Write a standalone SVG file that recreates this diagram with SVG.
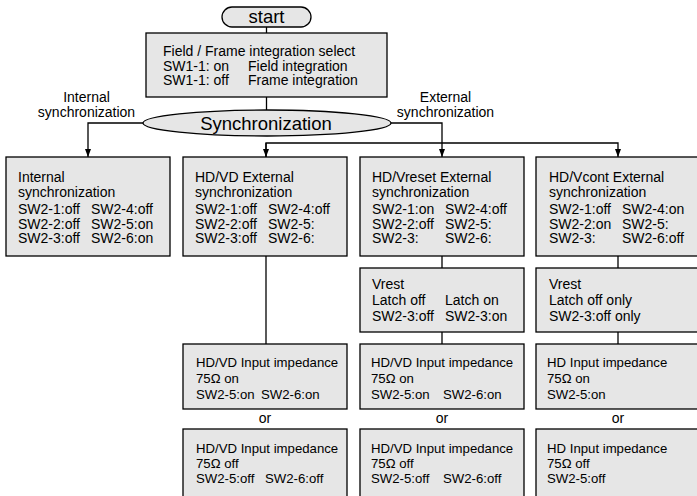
<svg xmlns="http://www.w3.org/2000/svg" width="697" height="496" viewBox="0 0 697 496">
<defs>
<style>
.box{fill:#e6e6e6;stroke:#000;stroke-width:1.3}
.t{font-family:"Liberation Sans",Arial,sans-serif;font-size:14px;fill:#000}
.s{font-size:13.2px}
.big{font-family:"Liberation Sans",Arial,sans-serif;font-size:18.5px;fill:#000}
.c{text-anchor:middle}
.ln{fill:none;stroke:#000;stroke-width:1.3}
</style>
<marker id="ah" viewBox="0 0 8 6" refX="8" refY="3" markerWidth="8" markerHeight="6" markerUnits="userSpaceOnUse" orient="auto">
<path d="M0,0 L8,3 L0,6 Z" fill="#000"/>
</marker>
</defs>
<rect width="697" height="496" fill="#fff"/>
<g id="connectors">
<line class="ln" x1="266.5" y1="27" x2="266.5" y2="33"/>
<line class="ln" x1="266.5" y1="97" x2="266.5" y2="110"/>
<path class="ln" d="M143,123 H88 V157" marker-end="url(#ah)"/>
<path class="ln" d="M391,123 H442 V157" marker-end="url(#ah)"/>
<path class="ln" d="M266,157 V143 H618 V157" marker-end="url(#ah)"/>
<path class="ln" d="M266,143 V157" marker-end="url(#ah)"/>
<line class="ln" x1="266" y1="256" x2="266" y2="344"/>
<line class="ln" x1="442" y1="256" x2="442" y2="268"/>
<line class="ln" x1="442" y1="332" x2="442" y2="344"/>
<line class="ln" x1="618" y1="256" x2="618" y2="268"/>
<line class="ln" x1="618" y1="332" x2="618" y2="344"/>
</g>
<g id="start">
<rect class="box" x="222" y="7" width="89" height="20" rx="10"/>
<text class="big c" x="266.5" y="23">start</text>
</g>
<g id="select">
<rect class="box" x="146" y="33" width="241" height="64"/>
<text class="t" x="163" y="56">Field / Frame integration select</text>
<text class="t" x="163" y="70.5">SW1-1: on</text><text class="t" x="248" y="70.5">Field integration</text>
<text class="t" x="163" y="85">SW1-1: off</text><text class="t" x="248" y="85">Frame integration</text>
</g>
<g id="labels">
<text class="t c" x="86.5" y="102">Internal</text>
<text class="t c" x="86.5" y="117">synchronization</text>
<text class="t c" x="445.5" y="102">External</text>
<text class="t c" x="445.5" y="117">synchronization</text>
</g>
<g id="sync">
<ellipse class="box" cx="267" cy="123" rx="124" ry="13"/>
<text class="big c" x="266" y="130">Synchronization</text>
</g>
<g id="internal">
<rect class="box" x="6" y="157" width="164" height="99"/>
<text class="t" x="18" y="182">Internal</text>
<text class="t" x="18" y="197">synchronization</text>
<text class="t" x="18" y="214">SW2-1:off</text><text class="t" x="91" y="214">SW2-4:off</text>
<text class="t" x="18" y="228.5">SW2-2:off</text><text class="t" x="91" y="228.5">SW2-5:on</text>
<text class="t" x="18" y="243">SW2-3:off</text><text class="t" x="91" y="243">SW2-6:on</text>
</g>
<g id="hdvd">
<rect class="box" x="183" y="157" width="164" height="99"/>
<text class="t" x="195" y="182">HD/VD External</text>
<text class="t" x="195" y="197">synchronization</text>
<text class="t" x="195" y="214">SW2-1:off</text><text class="t" x="268" y="214">SW2-4:off</text>
<text class="t" x="195" y="228.5">SW2-2:off</text><text class="t" x="268" y="228.5">SW2-5:</text>
<text class="t" x="195" y="243">SW2-3:off</text><text class="t" x="268" y="243">SW2-6:</text>
</g>
<g id="hdvreset">
<rect class="box" x="360" y="157" width="164" height="99"/>
<text class="t" x="372" y="182">HD/Vreset External</text>
<text class="t" x="372" y="197">synchronization</text>
<text class="t" x="372" y="214">SW2-1:on</text><text class="t" x="445" y="214">SW2-4:off</text>
<text class="t" x="372" y="228.5">SW2-2:off</text><text class="t" x="445" y="228.5">SW2-5:</text>
<text class="t" x="372" y="243">SW2-3:</text><text class="t" x="445" y="243">SW2-6:</text>
</g>
<g id="hdvcont">
<rect class="box" x="536" y="157" width="164" height="99"/>
<text class="t" x="549" y="182">HD/Vcont External</text>
<text class="t" x="549" y="197">synchronization</text>
<text class="t" x="549" y="214">SW2-1:off</text><text class="t" x="622" y="214">SW2-4:on</text>
<text class="t" x="549" y="228.5">SW2-2:on</text><text class="t" x="622" y="228.5">SW2-5:</text>
<text class="t" x="549" y="243">SW2-3:</text><text class="t" x="622" y="243">SW2-6:off</text>
</g>
<g id="vrest1">
<rect class="box" x="360" y="268" width="164" height="64"/>
<text class="t" x="372" y="289">Vrest</text>
<text class="t" x="372" y="305">Latch off</text><text class="t" x="445" y="305">Latch on</text>
<text class="t" x="372" y="321">SW2-3:off</text><text class="t" x="445" y="321">SW2-3:on</text>
</g>
<g id="vrest2">
<rect class="box" x="536" y="268" width="164" height="64"/>
<text class="t" x="549" y="289">Vrest</text>
<text class="t" x="549" y="305">Latch off only</text>
<text class="t" x="549" y="321">SW2-3:off only</text>
</g>
<g id="imp-on-1">
<rect class="box" x="183" y="344" width="164" height="65"/>
<text class="t s" x="196" y="367">HD/VD Input impedance</text>
<text class="t s" x="196" y="383">75Ω on</text>
<text class="t s" x="196" y="399">SW2-5:on</text><text class="t s" x="261" y="399">SW2-6:on</text>
</g>
<g id="imp-on-2">
<rect class="box" x="360" y="344" width="164" height="65"/>
<text class="t s" x="371" y="367">HD/VD Input impedance</text>
<text class="t s" x="371" y="383">75Ω on</text>
<text class="t s" x="371" y="399">SW2-5:on</text><text class="t s" x="443" y="399">SW2-6:on</text>
</g>
<g id="imp-on-3">
<rect class="box" x="536" y="344" width="164" height="65"/>
<text class="t s" x="547" y="367">HD Input impedance</text>
<text class="t s" x="547" y="383">75Ω on</text>
<text class="t s" x="547" y="399">SW2-5:on</text>
</g>
<g id="or">
<text class="t c" x="265" y="423">or</text>
<text class="t c" x="442" y="423">or</text>
<text class="t c" x="618" y="423">or</text>
</g>
<g id="imp-off-1">
<rect class="box" x="183" y="429" width="164" height="70"/>
<text class="t s" x="196" y="453">HD/VD Input impedance</text>
<text class="t s" x="196" y="468">75Ω off</text>
<text class="t s" x="196" y="483">SW2-5:off</text><text class="t s" x="265" y="483">SW2-6:off</text>
</g>
<g id="imp-off-2">
<rect class="box" x="360" y="429" width="164" height="70"/>
<text class="t s" x="371" y="453">HD/VD Input impedance</text>
<text class="t s" x="371" y="468">75Ω off</text>
<text class="t s" x="371" y="483">SW2-5:off</text><text class="t s" x="443" y="483">SW2-6:off</text>
</g>
<g id="imp-off-3">
<rect class="box" x="536" y="429" width="164" height="70"/>
<text class="t s" x="547" y="453">HD Input impedance</text>
<text class="t s" x="547" y="468">75Ω off</text>
<text class="t s" x="547" y="483">SW2-5:off</text>
</g>
</svg>
